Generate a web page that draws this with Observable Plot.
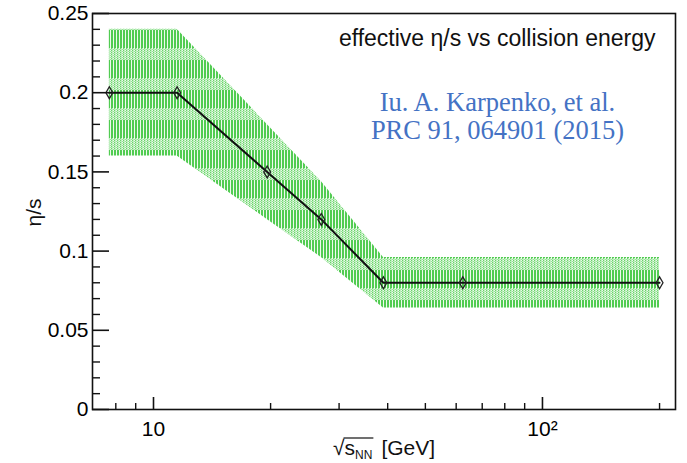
<!DOCTYPE html>
<html>
<head>
<meta charset="utf-8">
<script src="https://cdn.jsdelivr.net/npm/d3@7"></script>
<script src="https://cdn.jsdelivr.net/npm/@observablehq/plot@0.6"></script>
<style>
  html, body { margin: 0; padding: 0; background: #fff; }
  #chart { width: 687px; height: 463px; }
</style>
</head>
<body>
<div id="chart"></div>
<script>
// Collision energies (GeV) and the effective eta/s used at each of them
const energies = [7.7, 11.5, 19.6, 27, 39, 62.4, 200];
const etaS     = [0.20, 0.20, 0.15, 0.12, 0.08, 0.08, 0.08];
// Uncertainty band edges
const bandHigh = [0.24, 0.24, 0.18, 0.144, 0.096, 0.096, 0.096];
const bandLow  = [0.16, 0.16, 0.12, 0.096, 0.064, 0.064, 0.064];

// Axis ticks
const yMajor = [0, 0.05, 0.1, 0.15, 0.2, 0.25];
const yMajorLabels = ["0", "0.05", "0.1", "0.15", "0.2", "0.25"];
const yMinor = [0.01,0.02,0.03,0.04,0.06,0.07,0.08,0.09,0.11,0.12,0.13,0.14,
                0.16,0.17,0.18,0.19,0.21,0.22,0.23,0.24];
const xMajor = [10, 100];
const xMajorLabels = ["10", "10²"];
const xMinor = [8, 9, 20, 30, 40, 50, 60, 70, 80, 90, 200];

const titleText = "effective η/s vs collision energy";
const citation = "Iu. A. Karpenko, et al.\nPRC 91, 064901 (2015)";
const yTitle = "η/s";

const rows = energies.map((e, i) => ({e, v: etaS[i], hi: bandHigh[i], lo: bandLow[i]}));

const W = 687, H = 463;
const mL = 92, mR = 12, mT = 13, mB = 54;
const plotW = W - mL - mR, plotH = H - mT - mB;

const chart = Plot.plot({
  width: W,
  height: H,
  marginLeft: mL, marginRight: mR, marginTop: mT, marginBottom: mB,
  style: {fontFamily: "'Liberation Sans', Arial, sans-serif", fontSize: "21px", color: "#000", background: "#fff"},
  x: {type: "log", domain: [6.969, 219.8], axis: null},
  y: {domain: [0, 0.25], axis: null},
  marks: [
    Plot.areaY(rows, {x: "e", y1: "lo", y2: "hi", fill: "url(#hatch)", curve: "linear"}),
    Plot.line(rows, {x: "e", y: "v", stroke: "#111", strokeWidth: 2}),
    Plot.dot(rows, {x: "e", y: "v", symbol: "diamond", r: 3.6, fill: "none", stroke: "#222", strokeWidth: 1.3}),
    // inward ticks
    Plot.tickY(yMajor, {y: d => d, stroke: "#111", strokeWidth: 1.6, insetRight: plotW - 17}),
    Plot.tickY(yMinor, {y: d => d, stroke: "#111", strokeWidth: 1.4, insetRight: plotW - 8}),
    Plot.tickX(xMajor, {x: d => d, stroke: "#111", strokeWidth: 1.6, insetTop: plotH - 12}),
    Plot.tickX(xMinor, {x: d => d, stroke: "#111", strokeWidth: 1.4, insetTop: plotH - 6}),
    Plot.frame({stroke: "#111", strokeWidth: 1.6}),
    Plot.axisY({ticks: yMajor, tickSize: 0, tickPadding: 4, fontSize: 21, fill: "#000",
      tickFormat: d => yMajorLabels[yMajor.indexOf(d)], label: null}),
    Plot.axisX({ticks: xMajor, tickSize: 0, tickPadding: 12, fontSize: 21, fill: "#000",
      tickFormat: d => xMajorLabels[xMajor.indexOf(d)], label: null}),
    Plot.text([titleText], {frameAnchor: "top-right", textAnchor: "end", lineAnchor: "middle",
      dx: -20, dy: 25, fontSize: 23, fill: "#111"}),
    Plot.text([citation], {frameAnchor: "top-left", textAnchor: "middle", lineAnchor: "top",
      dx: 405, dy: 77, fontSize: 26.5, lineHeight: 1.08, fill: "#4472C4",
      fontFamily: "'Liberation Serif', 'Times New Roman', serif"}),
    Plot.text([yTitle], {frameAnchor: "left", rotate: -90, textAnchor: "middle", lineAnchor: "middle",
      dx: -58, dy: 1, fontSize: 21, fill: "#111"})
  ]
});

// Hatch pattern for the uncertainty band: vertical green strokes with dotted rows
const svg = d3.select(chart);
const defs = svg.insert("defs", ":first-child");
const pat = defs.append("pattern")
  .attr("id", "hatch")
  .attr("patternUnits", "userSpaceOnUse")
  .attr("width", 3).attr("height", 30);
pat.append("rect").attr("x", 0).attr("y", 0).attr("width", 3).attr("height", 30).attr("fill", "#eefaee");
pat.append("rect").attr("x", 0).attr("y", 0).attr("width", 2).attr("height", 18).attr("fill", "#52cc52");
pat.append("rect").attr("x", 0).attr("y", 18).attr("width", 2).attr("height", 12).attr("fill", "#bdeebd");
for (let y = 18; y < 30; y += 2) {
  pat.append("rect").attr("x", 0).attr("y", y).attr("width", 1).attr("height", 1).attr("fill", "#6ad46a");
  pat.append("rect").attr("x", 2).attr("y", y + 1).attr("width", 1).attr("height", 1).attr("fill", "#98e298");
}

document.getElementById("chart").appendChild(chart);

// x-axis title: sqrt(s_NN) [GeV]
const xt = svg.append("text")
  .attr("x", 333).attr("y", 455)
  .attr("text-anchor", "start")
  .attr("font-size", 21)
  .attr("fill", "#111");
xt.append("tspan").text("√");
xt.append("tspan").text("s");
xt.append("tspan").attr("font-size", 12).attr("dy", 4).text("NN");
xt.append("tspan").attr("dy", -4).attr("dx", 9).text("[GeV]");
const node = xt.node();
const e1 = node.getExtentOfChar(1), e3 = node.getExtentOfChar(3);
svg.append("line")
  .attr("x1", e1.x - 1).attr("x2", e3.x + e3.width + 1)
  .attr("y1", 438).attr("y2", 438)
  .attr("stroke", "#111").attr("stroke-width", 1.2);
</script>
</body>
</html>
